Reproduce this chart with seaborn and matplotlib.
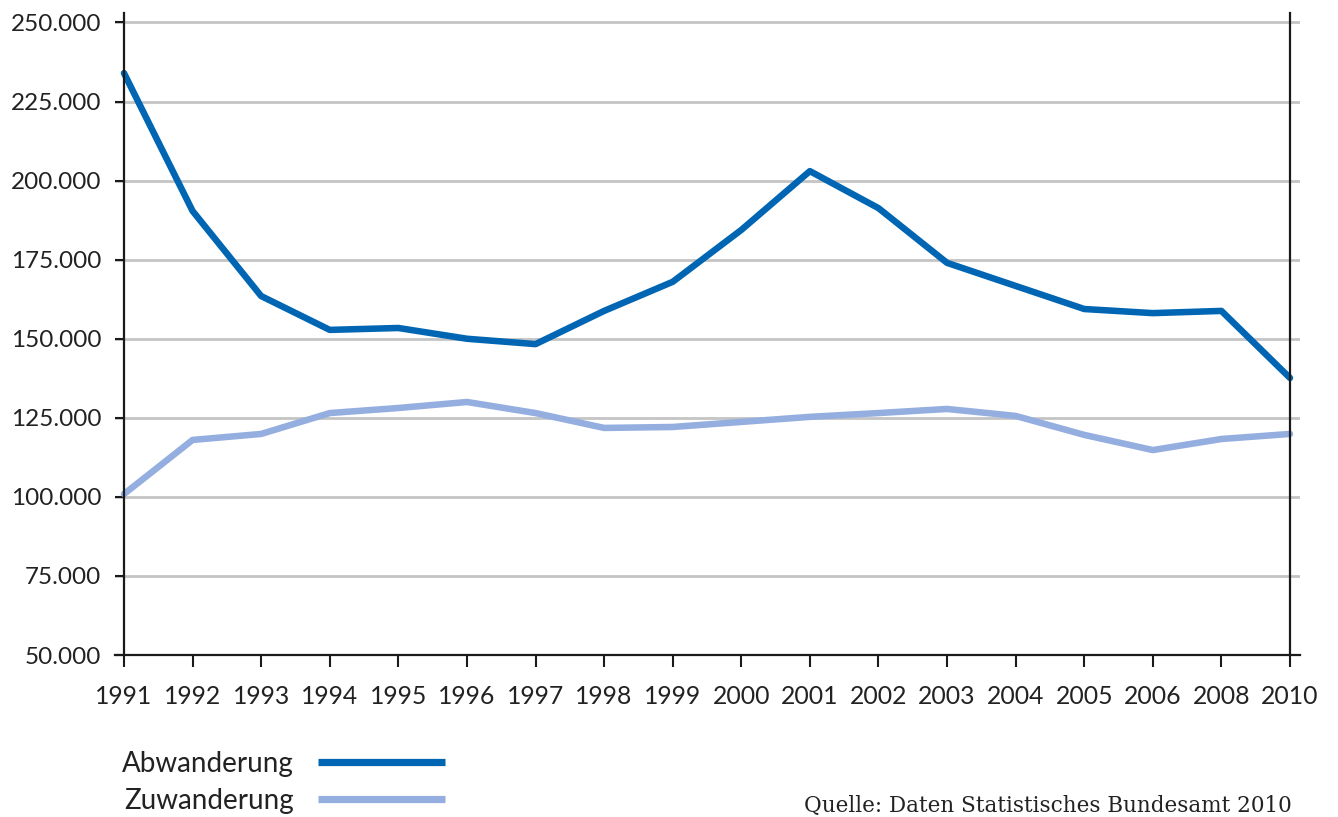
import matplotlib
matplotlib.use("Agg")
import matplotlib.pyplot as plt
import seaborn as sns
import pandas as pd

years = ["1991", "1992", "1993", "1994", "1995", "1996", "1997", "1998", "1999",
         "2000", "2001", "2002", "2003", "2004", "2005", "2006", "2008", "2010"]
abwanderung = [234000, 190400, 163500, 152800, 153400, 150000, 148300, 158800, 168000,
               184400, 203000, 191300, 174000, 166700, 159400, 158100, 158800, 137600]
zuwanderung = [100900, 118000, 119900, 126500, 128100, 130000, 126500, 121800, 122100,
               123700, 125300, 126500, 127800, 125600, 119600, 114800, 118300, 119900]
series_names = ["Abwanderung", "Zuwanderung"]
colors = ["#0066b3", "#95aee0"]
yticks = [50000, 75000, 100000, 125000, 150000, 175000, 200000, 225000, 250000]
source = "Quelle: Daten Statistisches Bundesamt 2010"

df = pd.concat([
    pd.DataFrame({"Jahr": years, "Wert": abwanderung, "Serie": series_names[0]}),
    pd.DataFrame({"Jahr": years, "Wert": zuwanderung, "Serie": series_names[1]}),
])

sns.set_theme(style="white")
plt.rcParams["font.family"] = ["Lato", "DejaVu Sans"]

W, H = 1338, 817
fig = plt.figure(figsize=(W / 100, H / 100), dpi=100)
ax = fig.add_axes([115 / W, (H - 655) / H, 1185 / W, 642 / H])

sns.lineplot(data=df, x="Jahr", y="Wert", hue="Serie", palette=colors,
             linewidth=4.7, sort=False, ax=ax, legend=False)

ax.set_xlim(-0.131, 17.146)
ax.set_ylim(50000, 253000)
ax.set_yticks(yticks)
ax.set_yticklabels([f"{v:,.0f}".replace(",", ".") for v in yticks])
ax.set_xticks(range(len(years)))
ax.set_xticklabels(years)
ax.set_xlabel("")
ax.set_ylabel("")

ax.set_axisbelow(True)
ax.yaxis.grid(True, color="#c4c4c4", linewidth=2.0)
ax.xaxis.grid(False)

ax.spines["top"].set_visible(False)
for s in ["left", "right", "bottom"]:
    ax.spines[s].set_visible(True)
    ax.spines[s].set_color("#1a1a1a")
    ax.spines[s].set_linewidth(1.6)
ax.spines["left"].set_position(("data", 0))
ax.spines["right"].set_position(("data", 17))

ax.tick_params(axis="y", which="major", left=True, right=False, length=6.5, width=1.5,
               color="#1a1a1a", pad=10, labelsize=17.5, labelcolor="#222222")
ax.tick_params(axis="x", which="major", bottom=True, length=8.6, width=1.5,
               color="#1a1a1a", pad=13, labelsize=17.8, labelcolor="#222222")

handles = [plt.Line2D([], [], color=c, linewidth=5.2, solid_capstyle="butt") for c in colors]
leg = fig.legend(handles, series_names, loc="upper left",
                 bbox_to_anchor=(122 / W, 1 - 751 / H), frameon=False, markerfirst=False,
                 handlelength=4.6, handletextpad=0.86, labelspacing=0.38, borderpad=0,
                 borderaxespad=0, fontsize=20)
for t in leg.get_texts():
    t.set_color("#222222")

fig.text(1292 / W, 1 - 812 / H, source, ha="right", va="baseline",
         family=["DejaVu Serif"], fontsize=15.5, color="#222222")

fig.savefig("out.png", dpi=100)
